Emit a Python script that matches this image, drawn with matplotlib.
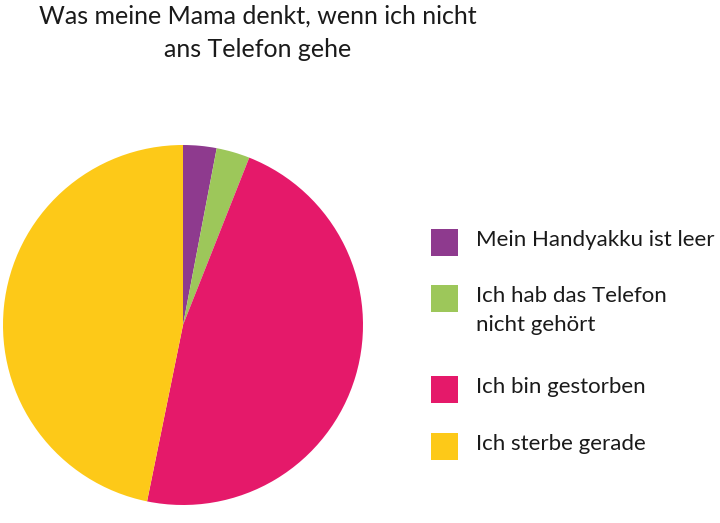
import matplotlib.pyplot as plt
from matplotlib.patches import Rectangle

labels = ['Mein Handyakku ist leer', 'Ich hab das Telefon\nnicht gehört',
          'Ich bin gestorben', 'Ich sterbe gerade']
values = [3, 3, 47.2, 46.8]
colors = ['#8E3A8E', '#9DC75A', '#E5196A', '#FDC918']
title = 'Was meine Mama denkt, wenn ich nicht\nans Telefon gehe'

plt.rcParams['font.family'] = ['Lato', 'DejaVu Sans']

W, H = 720, 523
fig = plt.figure(figsize=(W / 100, H / 100), dpi=100)

# pie axes in pixel coords: x 3..363, y 145..505
ax = fig.add_axes([3 / W, (H - 505) / H, 360 / W, 360 / H])
ax.pie(values, colors=colors, startangle=90, counterclock=False,
       wedgeprops=dict(linewidth=0))
ax.set_xlim(-1, 1)
ax.set_ylim(-1, 1)
ax.set_aspect('equal')

fig.text(258 / W, 1 - 5 / H, title, ha='center', va='top',
         fontsize=18, color='#1a1a1a', linespacing=1.55)

# legend drawn by hand
sq = 27
ys = [242, 298, 389, 446]
for lab, c, y in zip(labels, colors, ys):
    fig.patches.append(Rectangle((431 / W, 1 - (y + sq / 2) / H), sq / W, sq / H,
                                 transform=fig.transFigure, facecolor=c,
                                 edgecolor='none'))
    fig.text(476 / W, 1 - (y - 12) / H, lab, ha='left', va='top',
             fontsize=16, color='#1a1a1a', linespacing=1.55)

fig.savefig('out.png', dpi=100)
